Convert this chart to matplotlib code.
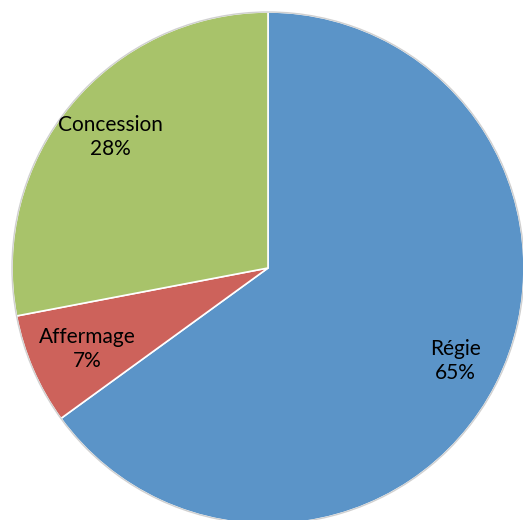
import matplotlib.pyplot as plt

labels = ['Régie', 'Affermage', 'Concession']
shares = [65, 7, 28]
colors = ['#5b94c8', '#cd625b', '#a8c36a']

fig = plt.figure(figsize=(5.23, 5.2), dpi=100)
ax = fig.add_axes([0, 0, 1, 1])

wedges, texts = ax.pie(
    shares,
    labels=[f'{l}\n{s}%' for l, s in zip(labels, shares)],
    colors=colors,
    startangle=90,
    counterclock=False,
    radius=1,
    labeldistance=0.8,
    wedgeprops=dict(edgecolor='white', linewidth=1.2),
    textprops=dict(fontsize=15, family=['Lato', 'DejaVu Sans'], color='black',
                   ha='center', va='center', linespacing=1.25),
)
# nudge the two small-side labels a touch inward, as in the original
texts[0].set_x(texts[0].get_position()[0] + 0.02)
texts[1].set_x(texts[1].get_position()[0] + 0.03)

# faint grey rim round the pie
ax.add_patch(plt.Circle((0, 0), 1.0, fill=False, edgecolor='#d0d0d0', linewidth=1.0))

ax.set_aspect('equal')
ax.set_xlim(-268 / 256, 255 / 256)
ax.set_ylim(-252 / 256, 268 / 256)
ax.axis('off')

plt.savefig('out.png', dpi=100)
